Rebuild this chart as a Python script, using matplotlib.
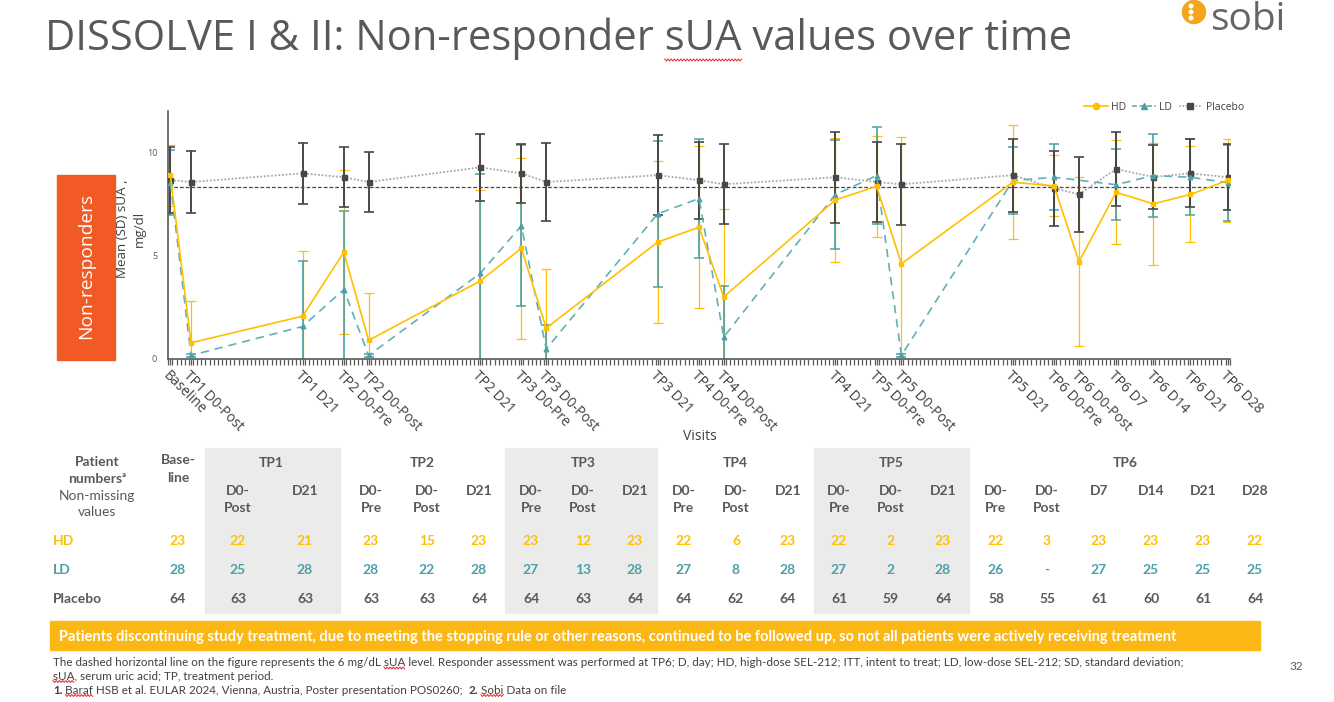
import numpy as np
import matplotlib
matplotlib.use("Agg")
import matplotlib.pyplot as plt
from matplotlib.patches import Rectangle, Ellipse
from matplotlib.lines import Line2D

W, H = 1334, 702

# ---------------- data ----------------
visits = ["Baseline", "TP1 D0-Post", "TP1 D21", "TP2 D0-Pre", "TP2 D0-Post", "TP2 D21",
          "TP3 D0-Pre", "TP3 D0-Post", "TP3 D21", "TP4 D0-Pre", "TP4 D0-Post", "TP4 D21",
          "TP5 D0-Pre", "TP5 D0-Post", "TP5 D21", "TP6 D0-Pre", "TP6 D0-Post", "TP6 D7",
          "TP6 D14", "TP6 D21", "TP6 D28"]
visit_pos = [0.5, 5.5, 32.5, 42.5, 48.5, 75.5, 85.5, 91.5, 118.5, 128.5, 134.5, 161.5,
             171.5, 177.5, 204.5, 214.5, 220.5, 229.5, 238.5, 247.5, 256.5]
hd_mean = [8.89, 0.77, 2.06, 5.16, 0.89, 3.76, 5.35, 1.48, 5.65, 6.37, 3.00, 7.69,
           8.35, 4.60, 8.55, 8.37, 4.70, 8.06, 7.50, 7.96, 8.64]
hd_sd = [1.48, 2.02, 3.18, 3.97, 2.29, 4.40, 4.38, 2.86, 3.92, 3.92, 4.24, 2.99,
         2.45, 6.13, 2.76, 1.48, 4.10, 2.52, 2.95, 2.33, 2.00]
ld_mean = [8.53, 0.16, 1.56, 3.35, 0.16, 4.13, 6.44, 0.47, 7.02, 7.76, 1.05, 7.95,
           8.87, 0.16, 8.63, 8.79, np.nan, 8.43, 8.87, 8.79, 8.53]
ld_sd = [1.58, 0.08, 3.16, 3.80, 0.08, 4.80, 3.89, 1.16, 3.55, 2.86, 2.47, 2.64,
         2.34, 0.08, 1.61, 1.60, np.nan, 1.72, 2.00, 1.85, 1.84]
pbo_mean = [8.65, 8.56, 8.98, 8.79, 8.56, 9.27, 8.98, 8.56, 8.89, 8.65, 8.45, 8.79,
            8.56, 8.45, 8.89, 8.26, 7.96, 9.19, 8.80, 8.98, 8.79]
pbo_sd = [1.60, 1.52, 1.47, 1.45, 1.43, 1.63, 1.43, 1.87, 1.95, 1.87, 1.94, 2.20,
          1.96, 1.96, 1.77, 1.82, 1.80, 1.80, 1.57, 1.65, 1.60]
threshold = 8.3
y_ticks = [0, 5, 10]

# table
tp_groups = ["TP1", "TP2", "TP3", "TP4", "TP5", "TP6"]
col_labels = ["Base-\nline", "D0-\nPost", "D21", "D0-\nPre", "D0-\nPost", "D21",
              "D0-\nPre", "D0-\nPost", "D21", "D0-\nPre", "D0-\nPost", "D21",
              "D0-\nPre", "D0-\nPost", "D21", "D0-\nPre", "D0-\nPost", "D7",
              "D14", "D21", "D28"]
n_hd = ["23", "22", "21", "23", "15", "23", "23", "12", "23", "22", "6", "23",
        "22", "2", "23", "22", "3", "23", "23", "23", "22"]
n_ld = ["28", "25", "28", "28", "22", "28", "27", "13", "28", "27", "8", "28",
        "27", "2", "28", "26", "-", "27", "25", "25", "25"]
n_pbo = ["64", "63", "63", "63", "63", "64", "64", "63", "64", "64", "62", "64",
         "61", "59", "64", "58", "55", "61", "60", "61", "64"]

# ---------------- style ----------------
C_HD = "#FFC000"
C_LD = "#4AA0A6"
C_LDL = "#62B0B5"
C_PBO = "#474747"
C_PBOL = "#A8A8A8"
C_TXT = "#595959"
C_DARK = "#404040"
C_RED = "#E3262B"
SANS = ["Open Sans", "DejaVu Sans"]
CAL = ["Lato", "DejaVu Sans"]

fig = plt.figure(figsize=(W / 100, H / 100), dpi=100)


def fx(px):
    return px / W


def fy(py):
    return 1 - py / H


def ftext(px, py, s, **kw):
    return fig.text(fx(px), fy(py), s, transform=fig.transFigure, **kw)


# ---------------- axes ----------------
ax_l, ax_r, ax_t, ax_b = 168.3, 1229.7, 111.0, 358.7
ax = fig.add_axes([fx(ax_l), fy(ax_b), (ax_r - ax_l) / W, (ax_b - ax_t) / H])
ax.set_xlim(0, 257)
ax.set_ylim(0, 12)

x = np.array(visit_pos)
hd_m, hd_s = np.array(hd_mean), np.array(hd_sd)
ld_m, ld_s = np.array(ld_mean), np.array(ld_sd)
pb_m, pb_s = np.array(pbo_mean), np.array(pbo_sd)
ok = ~np.isnan(ld_m)

ax.errorbar(x, hd_m, yerr=hd_s, fmt="none", ecolor=C_HD, elinewidth=0.9,
            capsize=3.4, capthick=0.9, zorder=2)
ax.errorbar(x[ok], ld_m[ok], yerr=ld_s[ok], fmt="none", ecolor=C_LD, elinewidth=1.2,
            capsize=3.4, capthick=1.1, zorder=2.1)
ax.errorbar(x, pb_m, yerr=pb_s, fmt="none", ecolor=C_PBO, elinewidth=1.4,
            capsize=3.4, capthick=1.2, zorder=2.2)

ax.axhline(threshold, color=C_PBO, lw=0.9, ls=(0, (3, 1.6)), zorder=2.5)

ax.plot(x, pb_m, color=C_PBOL, lw=1.3, ls=(0, (1, 1)), zorder=3)
ax.plot(x, pb_m, ls="none", marker="s", ms=3.6, color=C_PBO, zorder=3.1)
ax.plot(x[ok], ld_m[ok], color=C_LDL, lw=1.2, ls=(0, (5, 3.5)), zorder=3.2)
ax.plot(x[ok], ld_m[ok], ls="none", marker="^", ms=3.3, color=C_LD, zorder=3.3)
ax.plot(x, hd_m, color=C_HD, lw=1.2, zorder=3.4)
ax.plot(x, hd_m, ls="none", marker="s", ms=3.0, color=C_HD, zorder=3.5)

for s in ["top", "right"]:
    ax.spines[s].set_visible(False)
for s in ["left", "bottom"]:
    ax.spines[s].set_color(C_TXT)
    ax.spines[s].set_linewidth(1.2)

ax.set_yticks(y_ticks)
ax.set_yticklabels([str(v) for v in y_ticks], fontsize=6.5, color=C_TXT, family=SANS)
ax.tick_params(axis="y", length=0, pad=8)
ax.set_xticks(visit_pos)
ax.set_xticks(np.arange(0, 258, 1), minor=True)
ax.tick_params(axis="x", which="both", direction="out", length=4.5, width=0.9,
               color=C_TXT, pad=2)
ax.set_xticklabels(visits, rotation=-45, ha="left", va="top", rotation_mode="anchor",
                   fontsize=10, color=C_DARK, family=SANS)

# legend
handles = [Line2D([], [], color=C_HD, lw=1.2, marker="o", ms=4.5),
           Line2D([], [], color=C_LDL, lw=1.2, ls=(0, (3, 1.5)), marker="^", ms=4.5,
                  markerfacecolor=C_LD, markeredgecolor=C_LD),
           Line2D([], [], color=C_PBOL, lw=1.2, ls=(0, (1, 1)), marker="s", ms=4.5,
                  markerfacecolor=C_PBO, markeredgecolor=C_PBO)]
leg = ax.legend(handles, ["HD", "LD", "Placebo"], ncol=3, frameon=False,
                loc="center right", bbox_to_anchor=(fx(1248), fy(107)),
                bbox_transform=fig.transFigure, fontsize=7.5, handlelength=2.3,
                columnspacing=0.6, handletextpad=0.3, borderaxespad=0)
for t in leg.get_texts():
    t.set_color(C_DARK)
    t.set_family(SANS)

ftext(700, 437, "Visits", ha="center", va="center", fontsize=10, color=C_DARK,
      family=SANS)
ftext(131, 229, "Mean (SD) sUA ,\nmg/dl", ha="center", va="center", rotation=90,
      fontsize=9.6, color=C_DARK, family=SANS, linespacing=1.3)

# orange side box
fig.patches.append(Rectangle((fx(57), fy(360)), fx(115) - fx(57), fy(175) - fy(360),
                             transform=fig.transFigure, color="#F15A24", zorder=1))
nr = ftext(86, 266, "Non-responders", ha="center", va="center", rotation=90,
           fontsize=13.5, color="white", family=SANS)

# title
title = ftext(45, 50, "DISSOLVE I & II: Non-responder sUA values over time",
              ha="left", va="baseline", fontsize=30, color=C_TXT, family=SANS)

# logo
fig.patches.append(Ellipse((fx(1194), fy(12)), 23 / W, 23 / H, transform=fig.transFigure,
                           color="#F5A51C", zorder=2))
for dy in (6, 12, 18):
    fig.patches.append(Ellipse((fx(1191), fy(dy)), 3.6 / W, 3.6 / H,
                               transform=fig.transFigure, color="white", zorder=3))
logo = ftext(1210, 0.5, "sobi", ha="left", va="top", fontsize=28, color="#666666",
             family=SANS)

# ---------------- table ----------------
for a, b in [(205, 340), (505, 657), (814, 969)]:
    fig.patches.append(Rectangle((fx(a), fy(613)), fx(b) - fx(a), fy(448) - fy(613),
                                 transform=fig.transFigure, color="#EBEBEA", zorder=0))

col_x = [178, 238, 305, 371, 427, 479, 531, 583, 635, 684, 736, 788, 839, 891, 943,
         996, 1047, 1099, 1151, 1203, 1255]
grp_x = [271, 422, 583, 735, 891, 1125]
TS = 10
for gx, g in zip(grp_x, tp_groups):
    ftext(gx, 463, g, ha="center", va="center", fontsize=TS, fontweight="bold",
          color=C_TXT, family=CAL)
for i, (cx, lab) in enumerate(zip(col_x, col_labels)):
    top = 454 if i == 0 else 485
    ftext(cx, top, lab, ha="center", va="top", fontsize=TS, fontweight="bold",
          color=C_TXT, family=CAL, linespacing=1.55)
    ftext(cx, 541, n_hd[i], ha="center", va="center", fontsize=TS, fontweight="bold",
          color=C_HD, family=CAL)
    ftext(cx, 570, n_ld[i], ha="center", va="center", fontsize=TS, fontweight="bold",
          color=C_LD, family=CAL)
    ftext(cx, 599, n_pbo[i], ha="center", va="center", fontsize=TS, fontweight="bold",
          color=C_TXT, family=CAL)

ftext(97, 462, "Patient", ha="center", va="center", fontsize=TS, fontweight="bold",
      color=C_TXT, family=CAL)
ftext(97, 479, "numbers\u1d43", ha="center", va="center", fontsize=TS,
      fontweight="bold", color=C_TXT, family=CAL)
ftext(97, 496, "Non-missing", ha="center", va="center", fontsize=TS, color=C_TXT,
      family=CAL)
ftext(97, 512, "values", ha="center", va="center", fontsize=TS, color=C_TXT, family=CAL)
ftext(53, 541, "HD", ha="left", va="center", fontsize=TS, fontweight="bold", color=C_HD,
      family=CAL)
ftext(53, 570, "LD", ha="left", va="center", fontsize=TS, fontweight="bold", color=C_LD,
      family=CAL)
ftext(53, 599, "Placebo", ha="left", va="center", fontsize=TS, fontweight="bold",
      color=C_TXT, family=CAL)

# banner
fig.patches.append(Rectangle((fx(50), fy(650)), fx(1260) - fx(50), fy(621) - fy(650),
                             transform=fig.transFigure, color="#FBB714", zorder=0))
banner = ftext(59, 636.5, "Patients discontinuing study treatment, due to meeting the "
               "stopping rule or other reasons, continued to be followed up, so not all "
               "patients were actively receiving treatment", ha="left", va="center",
               fontsize=10, fontweight="bold", color="white", family=CAL)

# footnotes
FS = 8
fn1_pre = ("The dashed horizontal line on the figure represents the 6 mg/dL ")
fn1_txt = (fn1_pre + "sUA level. Responder assessment was performed at TP6; D, day; "
           "HD, high-dose SEL-212; ITT, intent to treat; LD, low-dose SEL-212; SD, "
           "standard deviation;")
fn1 = ftext(53, 662.5, fn1_txt, ha="left", va="center", fontsize=FS, color=C_DARK,
            family=CAL)
fn2 = ftext(53, 676, "sUA, serum uric acid; TP, treatment period.", ha="left",
            va="center", fontsize=FS, color=C_DARK, family=CAL)
ftext(1296, 667, "32", ha="center", va="center", fontsize=8.5, color=C_TXT, family=CAL)

# fit text widths to reference
fig.canvas.draw()
r = fig.canvas.get_renderer()


def fit_w(t, w):
    bb = t.get_window_extent(r)
    t.set_fontsize(t.get_fontsize() * w / bb.width)


def fit_h(t, h):
    bb = t.get_window_extent(r)
    t.set_fontsize(t.get_fontsize() * h / bb.height)


fit_w(title, 1025)
fit_w(banner, 1120)
fit_w(fn1, 1132)
fit_h(nr, 146)
fn2.set_fontsize(fn1.get_fontsize())
fig.canvas.draw()


def text_w(s, size, weight="normal", family=CAL):
    t = fig.text(0, 0, s, fontsize=size, fontweight=weight, family=family)
    w = t.get_window_extent(r).width
    t.remove()
    return w


def squiggle(x0, x1, ybase):
    xs = np.arange(x0, x1 + 0.1, 1.6)
    ys = ybase + np.where(np.arange(len(xs)) % 2 == 0, -1.0, 1.0)
    fig.add_artist(Line2D(fx(xs), fy(ys), transform=fig.transFigure, color=C_RED,
                          lw=0.7, zorder=5))


# third footnote line with bold numbers
parts = [("1.", "bold"), (" Baraf HSB et al. EULAR 2024, Vienna, Austria, Poster "
                          "presentation POS0260; ", "normal"),
         ("2.", "bold"), (" Sobi Data on file", "normal")]
cur = 53
starts = []
for s, wgt in parts:
    starts.append(cur)
    t = ftext(cur, 690, s, ha="left", va="center", fontsize=fn1.get_fontsize(),
              fontweight=wgt, color=C_DARK, family=CAL)
    fig.canvas.draw()
    bb = t.get_window_extent(r)
    cur = bb.x1 + (2.5 if s.endswith(" ") else 0)

# spell-check squiggles (as on the slide)
ts = title.get_fontsize()
s_end = text_w("DISSOLVE I & II: Non-responder sUA", ts, family=SANS)
s_w = text_w("sUA", ts, family=SANS)
squiggle(45 + s_end - s_w, 45 + s_end, 60)
fs = fn1.get_fontsize()
e1 = text_w(fn1_pre + "sUA", fs)
w1 = text_w("sUA", fs)
squiggle(53 + e1 - w1, 53 + e1, 668)
squiggle(53, 53 + w1, 681.5)
wb = text_w(" Baraf", fs)
ws = text_w(" ", fs)
squiggle(starts[1] + ws, starts[1] + wb, 695.5)
wso = text_w(" Sobi", fs)
squiggle(starts[3] + ws, starts[3] + wso, 695.5)

fig.savefig("out.png", dpi=100)
